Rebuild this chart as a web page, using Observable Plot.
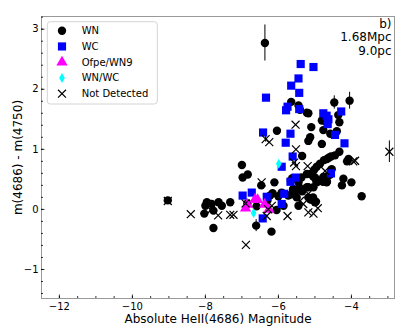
<!DOCTYPE html>
<html><head><meta charset="utf-8">
<script src="https://cdn.jsdelivr.net/npm/d3@7"></script>
<script src="https://cdn.jsdelivr.net/npm/@observablehq/plot@0.6"></script>
<style>
html,body{margin:0;padding:0;background:#fff;}
#chart{width:415px;height:332px;}
</style></head><body><div id="chart"></div>
<script>
// ---- data (absolute HeII(4686) magnitude, m(4686)-m(4750)) ----
const seriesNames   = ["WN", "WC", "Ofpe/WN9", "WN/WC", "Not Detected"];
const seriesColors  = ["#000000", "#0000ff", "#ff00ff", "#00ffff", "#000000"];
const seriesSymbols = ["circle", "square", "triangle", "diamond", "times"];

const wn = [
  [-6.37,2.77],[-9.03,0.15],[-4.05,1.81],[-4.47,1.78],[-5.65,1.79],[-5.45,1.73],[-5.41,1.66],
  [-5.22,1.61],[-5.18,1.60],[-6.04,1.31],[-4.36,1.57],[-4.33,1.45],[-4.81,1.48],[-4.70,1.46],
  [-5.10,1.37],[-4.77,1.32],[-4.40,1.30],[-4.58,1.26],[-5.13,1.20],[-5.18,1.14],[-4.81,1.09],
  [-5.35,0.89],[-4.33,0.96],[-4.45,0.90],[-4.56,0.88],[-4.62,0.86],[-4.67,0.84],[-4.75,0.82],
  [-4.86,0.76],[-4.95,0.71],[-5.02,0.66],[-4.08,0.84],[-4.12,0.80],[-5.13,0.59],[-5.05,0.55],
  [-4.98,0.50],[-4.90,0.48],[-4.78,0.46],[-4.67,0.46],[-4.64,0.56],[-4.58,0.58],[-4.54,0.67],
  [-4.22,0.51],[-4.26,0.40],[-4.00,0.45],[-3.72,0.22],[-5.45,0.45],[-5.42,0.36],[-5.35,0.30],
  [-5.18,0.37],[-5.13,0.17],[-5.00,0.12],[-5.05,0.20],[-5.45,0.06],[-5.50,0.20],[-5.55,0.28],
  [-5.60,0.33],[-5.65,0.25],[-5.73,0.23],[-5.62,0.52],[-5.66,0.48],[-5.86,0.06],[-5.91,0.28],
  [-6.00,0.22],[-6.05,-0.01],[-6.11,0.45],[-6.16,0.27],[-6.23,0.23],[-6.30,0.15],[-6.47,0.40],
  [-6.19,-0.37],[-6.61,-0.27],[-7.00,0.74],[-6.98,0.53],[-6.84,0.58],[-7.96,0.12],[-7.83,0.09],
  [-7.64,0.12],[-7.55,0.06],[-7.32,0.12],[-8.03,-0.07],[-8.00,0.06],[-7.78,-0.02],[-7.78,-0.31],
  [-6.85,0.10],[-6.60,0.05],[-5.22,0.59],[-5.00,0.53],[-4.95,0.45],[-4.77,0.54],[-4.68,0.45],
  [-5.04,0.37],[-5.22,0.37],[-5.18,0.20],[-5.09,0.16],[-4.97,0.13],[-5.37,0.53],[-5.59,0.34]
];
const wc = [
  [-5.39,2.42],[-5.04,2.37],[-5.45,2.18],[-5.65,2.06],[-5.43,1.94],[-6.34,1.86],[-5.75,1.71],
  [-5.79,1.65],[-5.43,1.67],[-4.77,1.60],[-4.68,1.56],[-4.63,1.50],[-4.65,1.42],[-4.28,1.63],
  [-4.45,1.24],[-6.42,1.28],[-5.67,1.26],[-5.80,1.11],[-4.19,1.10],[-5.61,0.88],[-5.91,0.71],
  [-5.53,0.53],[-5.67,0.46],[-4.56,0.60],[-6.98,0.23],[-6.73,0.28],[-6.32,0.21],[-5.84,0.26],
  [-5.91,0.09],[-6.43,-0.15]
];
const ofpe = [[-6.90,0.02],[-6.85,0.08],[-6.64,0.17],[-6.57,0.16],[-6.38,0.08],[-6.26,0.00]];
const wnwc = [[-5.99,0.76],[-6.68,-0.06]];
const notDetected = [
  [-2.96,0.96],[-3.90,0.81],[-3.95,0.80],[-5.53,1.41],[-6.35,1.17],[-6.25,1.12],[-5.52,1.00],
  [-5.57,0.78],[-5.52,0.72],[-5.20,0.72],[-4.72,0.64],[-6.46,0.45],[-5.18,0.26],[-5.41,0.14],
  [-5.32,0.09],[-5.18,-0.05],[-5.04,-0.07],[-5.75,-0.11],[-6.32,-0.11],[-6.28,0.00],[-6.90,0.10],
  [-6.89,-0.59],[-8.40,-0.08],[-7.65,-0.10],[-7.32,-0.09],[-7.23,-0.09],[-7.85,-0.01],[-9.03,0.14],
  [-6.18,0.06],[-4.92,0.02]
];
// error bars: [x, y, half-length]
const errorBars = [
  [-6.37,2.77,0.30],[-4.05,1.81,0.14],[-4.47,1.78,0.11],[-6.61,-0.27,0.10],[-9.03,0.15,0.05],
  [-6.47,0.40,0.06],[-2.96,0.96,0.18],[-6.35,1.17,0.05],[-5.53,0.78,0.05]
];

const xTicks = [-12, -10, -8, -6, -4];
const yTicks = [-1, 0, 1, 2, 3];
const xMinor = [-12, -11.5, -11, -10.5, -10, -9.5, -9, -8.5, -8, -7.5, -7, -6.5, -6, -5.5, -5, -4.5, -4, -3.5, -3];
const yMinor = [-1.4, -1.2, -1, -0.8, -0.6, -0.4, -0.2, 0, 0.2, 0.4, 0.6, 0.8, 1, 1.2, 1.4, 1.6, 1.8, 2, 2.2, 2.4, 2.6, 2.8, 3, 3.2];
const xLabel = "Absolute HeII(4686) Magnitude";
const yLabel = "m(4686) - m(4750)";
const note = "b)\n1.68Mpc\n9.0pc";

// ---- layout ----
const W = 415, H = 332, mL = 41, mR = 21, mT = 16, mB = 34;
const innerW = W - mL - mR, innerH = H - mT - mB;

const dotOpts = (i, r) => ({
  x: d => d[0], y: d => d[1], symbol: () => seriesSymbols[i], r,
  ...(seriesSymbols[i] === "times"
    ? {stroke: seriesColors[i], fill: "none", strokeWidth: 1.2}
    : {fill: seriesColors[i], stroke: "none"})
});

const chart = Plot.plot({
  width: W, height: H,
  marginLeft: mL, marginRight: mR, marginTop: mT, marginBottom: mB,
  style: {fontFamily: "DejaVu Sans", fontSize: "10px", background: "#fff", color: "#000"},
  x: {domain: [-12.49, -2.82]},
  y: {domain: [-1.483, 3.211]},
  symbol: {type: "identity"},
  marks: [
    Plot.frame({stroke: "#999", strokeWidth: 1}),
    Plot.tickX(xMinor, {x: d => d, insetTop: innerH - 2, stroke: "#000", strokeWidth: 0.8}),
    Plot.tickX(xTicks, {x: d => d, insetTop: innerH - 3.5, stroke: "#000", strokeWidth: 0.8}),
    Plot.tickY(yMinor, {y: d => d, insetRight: innerW - 2, stroke: "#000", strokeWidth: 0.8}),
    Plot.tickY(yTicks, {y: d => d, insetRight: innerW - 3.5, stroke: "#000", strokeWidth: 0.8}),
    Plot.axisX({ticks: xTicks, tickSize: 0, tickPadding: 4, fontSize: 10, tickFormat: d3.format("d"),
      label: xLabel, labelAnchor: "center", labelOffset: 24, labelArrow: "none"}),
    Plot.axisY({ticks: yTicks, tickSize: 0, tickPadding: 3, fontSize: 10, tickFormat: d3.format("d"),
      label: yLabel, labelAnchor: "center", labelOffset: 28, labelArrow: "none"}),
    Plot.ruleX(errorBars, {x: d => d[0], y1: d => d[1] - d[2], y2: d => d[1] + d[2], stroke: "#000", strokeWidth: 1}),
    Plot.dot(wn, dotOpts(0, 4.2)),
    Plot.dot(wc, dotOpts(1, 4.6)),
    Plot.dot(ofpe, dotOpts(2, 4.2)),
    Plot.dot(wnwc, dotOpts(3, 3)),
    Plot.dot(notDetected, dotOpts(4, 3.7)),
    Plot.text([note], {text: d => d, frameAnchor: "top-right", textAnchor: "end", lineAnchor: "top",
      dx: -3, dy: 2, fontSize: 12, lineHeight: 1.12, fill: "#000"})
  ]
});

// axis label font size
d3.select(chart).selectAll("[aria-label='x-axis label'] text, [aria-label='y-axis label'] text").attr("font-size", 12);

// ---- legend drawn inside the frame ----
const svg = d3.select(chart);
const lg = svg.append("g").attr("font-family", "DejaVu Sans").attr("font-size", 10).attr("text-anchor", "start");
lg.append("rect").attr("x", 47.3).attr("y", 21.7).attr("width", 110).attr("height", 82.3)
  .attr("rx", 3).attr("fill", "#fff").attr("fill-opacity", 0.8).attr("stroke", "#d4d4d4");
const symMap = {circle: d3.symbolCircle, square: d3.symbolSquare, triangle: d3.symbolTriangle, diamond: d3.symbolDiamond, times: d3.symbolTimes};
const symR = [4.2, 4.6, 4.2, 3, 3.7];
seriesNames.forEach((name, i) => {
  const cy = 30.7 + i * 15.75;
  const p = lg.append("path")
    .attr("transform", `translate(62,${cy})`)
    .attr("d", d3.symbol(symMap[seriesSymbols[i]], symR[i] * symR[i] * Math.PI)());
  if (seriesSymbols[i] === "times") p.attr("fill", "none").attr("stroke", seriesColors[i]).attr("stroke-width", 1.2);
  else p.attr("fill", seriesColors[i]);
  lg.append("text").attr("x", 81.7).attr("y", cy).attr("dy", "0.35em").attr("text-anchor", "start").attr("fill", "#000").text(name);
});

document.getElementById("chart").appendChild(chart);
</script></body></html>
